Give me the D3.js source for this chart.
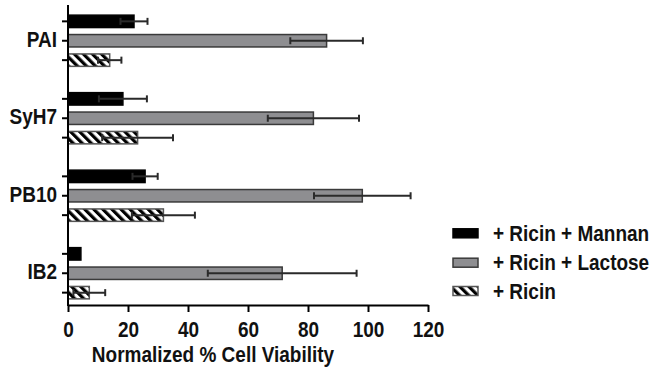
<!DOCTYPE html>
<html>
<head>
<meta charset="utf-8">
<script src="https://cdn.jsdelivr.net/npm/d3@7/dist/d3.min.js"></script>
<style>
  html, body { margin: 0; padding: 0; background: #fff; }
  svg text { font-family: "Liberation Sans", Arial, Helvetica, sans-serif; font-weight: bold; fill: #111; }
</style>
</head>
<body>
<div id="chart"></div>
<script>
var categories = ['PAI', 'SyH7', 'PB10', 'IB2']
var seriesNames = ['+ Ricin + Mannan', '+ Ricin + Lactose', '+ Ricin']
var mannanMean = [22, 18.3, 25.7, 4.3]
var mannanSd = [4.5, 8, 4.2, 0]
var lactoseMean = [86.2, 81.8, 98.1, 71.4]
var lactoseSd = [12.1, 15.2, 16.1, 24.8]
var ricinMean = [13.9, 23.2, 31.8, 7.1]
var ricinSd = [3.9, 11.8, 10.5, 5.3]
var xTicks = [0, 20, 40, 60, 80, 100, 120]

var width = 658
var height = 370
var stretch = 'scale(1,1.12)' // 原图文字略高

var svg = d3.select('#chart')
  .append('svg')
  .attr('width', width)
  .attr('height', height)

// 斜线填充
var defs = svg.append('defs')
defs.append('pattern')
  .attr('id', 'hatch')
  .attr('patternUnits', 'userSpaceOnUse')
  .attr('width', 6.4)
  .attr('height', 6.4)
  .attr('patternTransform', 'rotate(-45)')
  .call(function (p) {
    p.append('rect').attr('width', 6.4).attr('height', 6.4).attr('fill', '#fff')
    p.append('rect').attr('width', 3.2).attr('height', 6.4).attr('fill', '#000')
  })

var seriesStyle = [
  { fill: '#000', stroke: '#000' },
  { fill: '#8e8e91', stroke: '#3a3a3a' },
  { fill: 'url(#hatch)', stroke: '#555' }
]

var x = d3.scaleLinear().domain([0, 120]).range([68, 428])
var yCat = d3.scaleBand().domain(categories).range([2, 312])
var bw = yCat.bandwidth()
var yInner = d3.scaleBand()
  .domain(d3.range(3))
  .range([bw / 2 - 29.1, bw / 2 + 29.1])
  .paddingInner(0.36)
  .paddingOuter(0.18)

var rows = []
categories.forEach(function (c, i) {
  rows.push({ cat: c, s: 0, mean: mannanMean[i], sd: mannanSd[i] })
  rows.push({ cat: c, s: 1, mean: lactoseMean[i], sd: lactoseSd[i] })
  rows.push({ cat: c, s: 2, mean: ricinMean[i], sd: ricinSd[i] })
})

function barTop (d) { return yCat(d.cat) + yInner(d.s) }
function barMid (d) { return barTop(d) + yInner.bandwidth() / 2 }

// 柱
svg.append('g')
  .selectAll('rect')
  .data(rows)
  .enter()
  .append('rect')
  .attr('x', x(0))
  .attr('y', barTop)
  .attr('width', function (d) { return x(d.mean) - x(0) })
  .attr('height', yInner.bandwidth())
  .attr('fill', function (d) { return seriesStyle[d.s].fill })
  .attr('stroke', function (d) { return seriesStyle[d.s].stroke })
  .attr('stroke-width', 1.5)

// 误差线
var err = svg.append('g')
  .attr('stroke', '#2a2a2a')
  .attr('stroke-width', 2)
  .selectAll('g')
  .data(rows.filter(function (d) { return d.sd > 0 }))
  .enter()
  .append('g')
err.append('line')
  .attr('x1', function (d) { return x(d.mean - d.sd) })
  .attr('x2', function (d) { return x(d.mean + d.sd) })
  .attr('y1', barMid)
  .attr('y2', barMid)
err.selectAll('.cap')
  .data(function (d) { return [d.mean - d.sd, d.mean + d.sd].map(function (v) { return { v: v, d: d } }) })
  .enter()
  .append('line')
  .attr('class', 'cap')
  .attr('x1', function (c) { return x(c.v) })
  .attr('x2', function (c) { return x(c.v) })
  .attr('y1', function (c) { return barMid(c.d) - 3.5 })
  .attr('y2', function (c) { return barMid(c.d) + 3.5 })

// 横坐标
var xAxis = d3.axisBottom(x)
  .tickValues(xTicks)
  .tickSize(7)
  .tickSizeOuter(0)
  .tickPadding(8)

svg.append('g')
  .attr('transform', 'translate(0,305)')
  .call(xAxis)
  .call(function (g) {
    g.select('.domain').attr('stroke', '#000').attr('stroke-width', 2)
    g.selectAll('.tick line').attr('stroke', '#000').attr('stroke-width', 2)
    g.selectAll('.tick text')
      .attr('font-size', 19)
      .attr('font-family', null)
      .attr('fill', '#111')
      .attr('transform', stretch)
  })

// 纵坐标
var yAxis = d3.axisLeft(yCat)
  .tickSize(6)
  .tickPadding(5)

svg.append('g')
  .attr('transform', 'translate(' + x(0) + ',0)')
  .call(yAxis)
  .call(function (g) {
    g.select('.domain').remove()
    g.selectAll('.tick line').attr('stroke', '#000').attr('stroke-width', 2)
    g.selectAll('.tick text')
      .attr('font-size', 19)
      .attr('font-family', null)
      .attr('fill', '#111')
      .attr('dy', '0.28em')
      .attr('transform', stretch)
  })

svg.append('g')
  .selectAll('line')
  .data(rows.filter(function (d) { return d.s !== 1 }))
  .enter()
  .append('line')
  .attr('x1', x(0) - 6)
  .attr('x2', x(0))
  .attr('y1', barMid)
  .attr('y2', barMid)
  .attr('stroke', '#000')
  .attr('stroke-width', 2)

svg.append('line')
  .attr('x1', x(0))
  .attr('x2', x(0))
  .attr('y1', 5)
  .attr('y2', 306)
  .attr('stroke', '#000')
  .attr('stroke-width', 2)

svg.append('text')
  .attr('transform', 'translate(213,362) ' + stretch)
  .attr('text-anchor', 'middle')
  .attr('font-size', 19)
  .text('Normalized % Cell Viability')

// 图例
var legendY = [233.3, 262.7, 291]
var legend = svg.append('g')
  .selectAll('g')
  .data(seriesNames)
  .enter()
  .append('g')
  .attr('transform', function (d, i) { return 'translate(453,' + legendY[i] + ')' })
legend.append('rect')
  .attr('x', 0)
  .attr('y', -4.5)
  .attr('width', 25)
  .attr('height', 9)
  .attr('fill', function (d, i) { return seriesStyle[i].fill })
  .attr('stroke', function (d, i) { return seriesStyle[i].stroke })
  .attr('stroke-width', 1.5)
legend.append('text')
  .attr('transform', 'translate(40,7.5) ' + stretch)
  .attr('font-size', 19)
  .text(function (d) { return d })
</script>
</body>
</html>
